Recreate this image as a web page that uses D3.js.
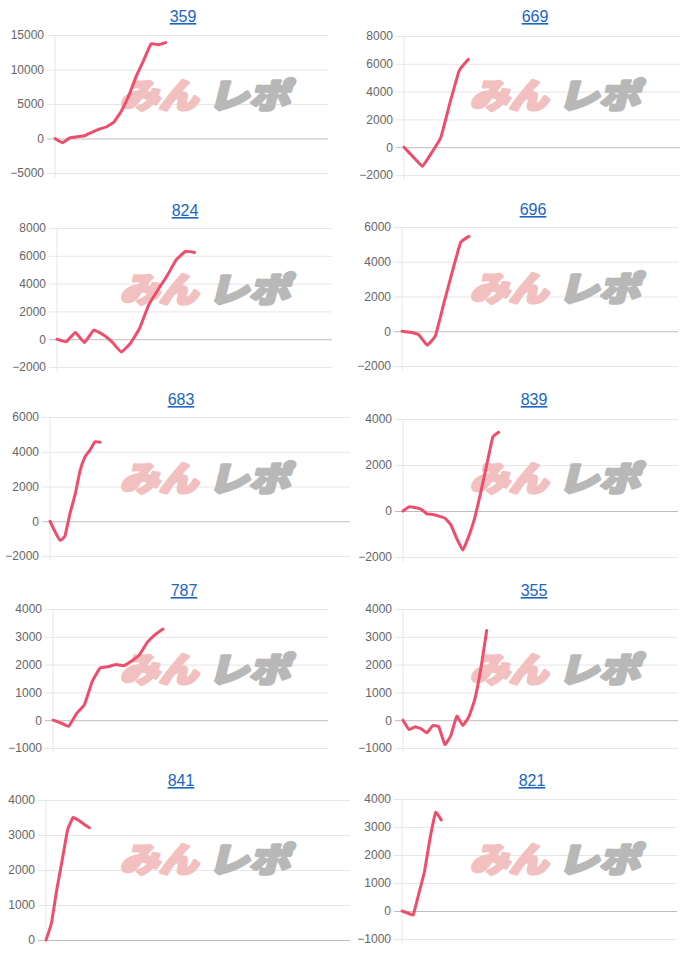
<!DOCTYPE html>
<html><head><meta charset="utf-8">
<script src="https://cdn.jsdelivr.net/npm/d3@7"></script>
<style>body{margin:0;background:#fff}svg{display:block}</style>
</head><body>
<svg id="c" width="700" height="957"></svg>
<script>
// ---- data ----
const titles = ["359", "669", "824", "696", "683", "839", "787", "355", "841", "821"];
const slotCounts = [38, 31, 31, 34, 61, 47, 36, 47, 57, 50]; // number of x categories per chart
const values359 = [0, -600, 100, 250, 400, 900, 1350, 1700, 2400, 4000, 6200, 9000, 11300, 13700, 13600, 13900];
const values669 = [0, -700, -1370, -400, 700, 3200, 5500, 6320];
const values824 = [0, -190, 480, -240, 650, 340, -190, -920, -310, 770, 2460, 3540, 4550, 5700, 6310, 6240];
const values696 = [0, -60, -200, -800, -250, 1600, 3400, 5100, 5460];
const values683 = [0, -600, -1100, -850, 450, 1500, 2900, 3700, 4100, 4580, 4550];
const values839 = [0, 180, 150, 80, -120, -150, -220, -310, -600, -1200, -1700, -1100, -300, 800, 2000, 3200, 3420];
const values787 = [0, -100, -220, 240, 560, 1400, 1880, 1920, 2000, 1960, 2130, 2350, 2800, 3080, 3280];
const values355 = [0, -335, -240, -300, -455, -190, -240, -875, -550, 145, -190, 120, 740, 1820, 3230];
const values841 = [0, 480, 1450, 2300, 3160, 3500, 3420, 3310, 3210];
const values821 = [0, -70, -140, 620, 1400, 2600, 3520, 3250];
const ticks359 = [-5000, 0, 5000, 10000, 15000];
const ticks669 = [-2000, 0, 2000, 4000, 6000, 8000];
const ticks824 = [-2000, 0, 2000, 4000, 6000, 8000];
const ticks696 = [-2000, 0, 2000, 4000, 6000];
const ticks683 = [-2000, 0, 2000, 4000, 6000];
const ticks839 = [-2000, 0, 2000, 4000];
const ticks787 = [-1000, 0, 1000, 2000, 3000, 4000];
const ticks355 = [-1000, 0, 1000, 2000, 3000, 4000];
const ticks841 = [0, 1000, 2000, 3000, 4000];
const ticks821 = [-1000, 0, 1000, 2000, 3000, 4000];

const series = [values359, values669, values824, values696, values683, values839, values787, values355, values841, values821];
const tickSets = [ticks359, ticks669, ticks824, ticks696, ticks683, ticks839, ticks787, ticks355, ticks841, ticks821];

// ---- layout (pixels) ----
const layout = [
  {px: 0,   l: 55,  r: 328, t: 35,  b: 173, tx: 183, ty: 16},
  {px: 350, l: 404, r: 680, t: 36,  b: 175, tx: 535, ty: 16},
  {px: 0,   l: 57,  r: 332, t: 228, b: 367, tx: 185, ty: 210},
  {px: 350, l: 402, r: 678, t: 227, b: 366, tx: 533, ty: 209},
  {px: 0,   l: 50,  r: 350, t: 417, b: 556, tx: 181, ty: 399},
  {px: 350, l: 403, r: 678, t: 419, b: 557, tx: 534, ty: 399},
  {px: 0,   l: 53,  r: 328, t: 609, b: 748, tx: 184, ty: 590},
  {px: 350, l: 403, r: 678, t: 609, b: 748, tx: 534, ty: 590},
  {px: 0,   l: 46,  r: 350, t: 800, b: 940, tx: 181, ty: 780},
  {px: 350, l: 402, r: 677, t: 799, b: 939, tx: 532, ty: 780}
];

const svg = d3.select("#c");
const FONT = "'Liberation Sans', Arial, Helvetica, sans-serif";
const LINE = "#ef4d6c";

layout.forEach((L, i) => {
  const g = svg.append("g");
  const ticks = tickSets[i];
  const y = d3.scaleLinear().domain(d3.extent(ticks)).range([L.b, L.t]);
  const x = d3.scalePoint().domain(d3.range(slotCounts[i])).range([L.l, L.r]);

  // title
  g.append("text").attr("x", L.tx).attr("y", L.ty + 6)
    .attr("text-anchor", "middle").attr("font-family", FONT).attr("font-size", 16)
    .attr("fill", "#1a66c2").attr("text-decoration", "underline").text(titles[i]);

  // y axis
  const ax = d3.axisLeft(y).tickValues(ticks).tickSize(L.r - L.l + 8).tickPadding(3).tickFormat(d3.format("d"));
  const axg = g.append("g").attr("transform", `translate(${L.r},0)`).call(ax);
  axg.select(".domain").remove();
  axg.selectAll(".tick line").attr("stroke", d => d === 0 ? "#bdbdbd" : "#e6e6e6").attr("stroke-width", 1);
  axg.selectAll(".tick text").attr("font-family", FONT).attr("font-size", 12).attr("fill", "#666");
  // left axis line
  g.append("line").attr("x1", L.l).attr("x2", L.l).attr("y1", L.t).attr("y2", L.b + 5)
    .attr("stroke", "#e6e6e6");

  // watermark
  const wm = g.append("g").attr("transform", `translate(${L.px + 116},${L.ty + 92}) skewX(-14)`);
  wm.append("text").attr("x", 4).attr("y", 0).attr("font-family", "'Noto Sans CJK JP', sans-serif")
    .attr("font-weight", 900).attr("font-size", 34).attr("fill", "#f2c0c0")
    .attr("stroke", "#f2c0c0").attr("stroke-width", 3).attr("stroke-linejoin", "round")
    .attr("textLength", 78).attr("lengthAdjust", "spacingAndGlyphs").text("みん");
  wm.append("text").attr("x", 92).attr("y", 0).attr("font-family", "'Noto Sans CJK JP', sans-serif")
    .attr("font-weight", 900).attr("font-size", 34).attr("fill", "#b8b8b8")
    .attr("stroke", "#b8b8b8").attr("stroke-width", 3).attr("stroke-linejoin", "round")
    .attr("textLength", 82).attr("lengthAdjust", "spacingAndGlyphs").text("レポ");

  // line
  const line = d3.line().x((d, j) => x(j)).y(d => y(d)).curve(d3.curveCardinal.tension(0.7));
  g.append("path").datum(series[i]).attr("d", line).attr("fill", "none")
    .attr("stroke", LINE).attr("stroke-width", 3).attr("stroke-linejoin", "round").attr("stroke-linecap", "round");
});
</script>
</body></html>
